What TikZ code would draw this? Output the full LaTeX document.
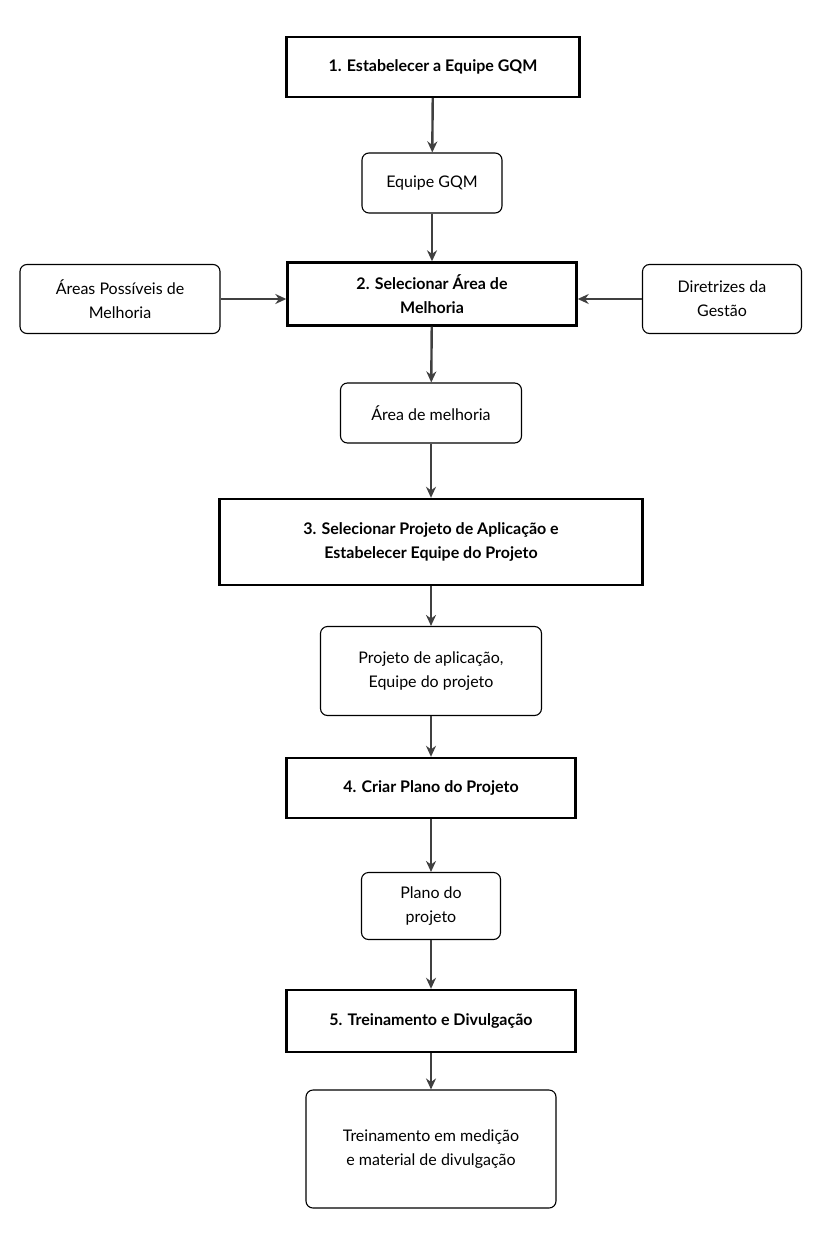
\documentclass[tikz,border=0pt]{standalone}
\usepackage{fontspec}
\setmainfont{Lato}
\usetikzlibrary{arrows.meta}
\tikzset{
  stage/.style={draw, line width=2.4pt, minimum height=60pt, align=center, font=\fontsize{16}{24}\selectfont\bfseries},
  artefact/.style={draw, line width=1.1pt, rounded corners=7pt, minimum height=60pt, align=center, font=\fontsize{16}{24}\selectfont},
  flow/.style={draw=black!75, line width=2.4pt, -{Stealth[length=11pt,width=10pt]}}
}
\begin{document}
\begin{tikzpicture}[x=1pt,y=-1pt]
  \useasboundingbox (0,0) rectangle (824,1246);
  \node[stage, minimum width=293pt] (s1) at (433,67) {1. Estabelecer a Equipe GQM};
  \node[artefact, minimum width=140pt] (a1) at (432,183) {Equipe GQM};
  \node[stage, minimum width=289pt, minimum height=63pt] (s2) at (432,294) {2. Selecionar Área de\\Melhoria};
  \node[artefact, minimum width=200pt, minimum height=69pt] (in1) at (120,299) {Áreas Possíveis de\\Melhoria};
  \node[artefact, minimum width=159pt, minimum height=69pt] (in2) at (722,299) {Diretrizes da\\Gestão};
  \node[artefact, minimum width=181pt] (a2) at (431,413) {Área de melhoria};
  \node[stage, minimum width=423pt, minimum height=86pt] (s3) at (431,542) {3. Selecionar Projeto de Aplicação e\\Estabelecer Equipe do Projeto};
  \node[artefact, minimum width=221pt, minimum height=89pt] (a3) at (431,671) {Projeto de aplicação,\\Equipe do projeto};
  \node[stage, minimum width=289pt] (s4) at (431,788) {4. Criar Plano do Projeto};
  \node[artefact, minimum width=139pt, minimum height=67pt] (a4) at (431,906) {Plano do\\projeto};
  \node[stage, minimum width=289pt, minimum height=62pt] (s5) at (431,1021) {5. Treinamento e Divulgação};
  \node[artefact, minimum width=250pt, minimum height=118pt] (a5) at (431,1149) {Treinamento em medição\\e material de divulgação};

  \draw[flow] (s1) -- (a1);
  \draw[flow] (a1) -- (s2);
  \draw[flow] (in1) -- (s2.west |- in1);
  \draw[flow] (in2) -- (s2.east |- in2);
  \draw[flow] (s2) -- (a2);
  \draw[flow] (a2) -- (s3);
  \draw[flow] (s3) -- (a3);
  \draw[flow] (a3) -- (s4);
  \draw[flow] (s4) -- (a4);
  \draw[flow] (a4) -- (s5);
  \draw[flow] (s5) -- (a5);
\end{tikzpicture}
\end{document}
